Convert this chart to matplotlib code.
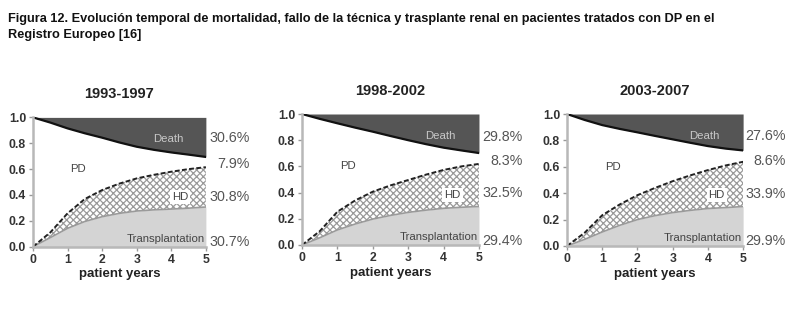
import matplotlib
matplotlib.use("Agg")
import matplotlib.pyplot as plt

years = [0, 0.5, 1, 1.5, 2, 2.5, 3, 3.5, 4, 4.5, 5]

titles = ["1993-1997", "1998-2002", "2003-2007"]

# upper boundary of PD (1 - cumulative death)
alive = [
    [1.0, 0.960, 0.915, 0.877, 0.843, 0.806, 0.773, 0.749, 0.729, 0.712, 0.694],
    [1.0, 0.963, 0.929, 0.896, 0.865, 0.832, 0.800, 0.770, 0.743, 0.722, 0.702],
    [1.0, 0.955, 0.916, 0.887, 0.861, 0.834, 0.808, 0.782, 0.757, 0.738, 0.724],
]
# cumulative transplant + HD (dashed line)
hd_top = [
    [0.0, 0.110, 0.258, 0.369, 0.438, 0.488, 0.528, 0.556, 0.580, 0.600, 0.615],
    [0.0, 0.105, 0.254, 0.340, 0.407, 0.455, 0.496, 0.537, 0.573, 0.600, 0.619],
    [0.0, 0.100, 0.233, 0.315, 0.385, 0.440, 0.491, 0.535, 0.575, 0.610, 0.638],
]
# cumulative transplant
tx = [
    [0.0, 0.070, 0.142, 0.195, 0.232, 0.258, 0.276, 0.285, 0.291, 0.298, 0.307],
    [0.0, 0.055, 0.115, 0.160, 0.198, 0.226, 0.249, 0.266, 0.280, 0.288, 0.294],
    [0.0, 0.050, 0.106, 0.157, 0.200, 0.230, 0.253, 0.270, 0.284, 0.291, 0.299],
]

pct_death = ["30.6%", "29.8%", "27.6%"]
pct_pd = ["7.9%", "8.3%", "8.6%"]
pct_hd = ["30.8%", "32.5%", "33.9%"]
pct_tx = ["30.7%", "29.4%", "29.9%"]

caption = ("Figura 12. Evolución temporal de mortalidad, fallo de la técnica y trasplante renal "
           "en pacientes tratados con DP en el\nRegistro Europeo [16]")

plt.rcParams['hatch.linewidth'] = 0.9
fig = plt.figure(figsize=(8.08, 3.35), dpi=100)
fig.text(0.010, 0.962, caption, fontsize=9.15, fontweight='bold', family='Liberation Sans',
         va='top', ha='left', linespacing=1.5, color='#111111')

positions = [
    [0.0408, 0.2636, 0.214, 0.386],
    [0.3738, 0.2687, 0.219, 0.391],
    [0.7017, 0.2657, 0.218, 0.394],
]
pct_right = [6.26, 6.23, 6.20]
pct_y = [
    [0.843, 0.637, 0.387, 0.040],
    [0.824, 0.640, 0.394, 0.033],
    [0.833, 0.643, 0.397, 0.038],
]

tf = dict(family='Liberation Sans')
for i in range(3):
    ax = fig.add_axes(positions[i])
    ax.fill_between(years, alive[i], 1.0, color='#555555', lw=0)
    ax.fill_between(years, tx[i], hd_top[i], facecolor='white', edgecolor='#9a9a9a',
                    hatch='xxxxx', lw=0)
    ax.fill_between(years, 0, tx[i], color='#d4d4d4', lw=0)
    ax.plot(years, tx[i], color='#9a9a9a', lw=1.2)
    ax.plot(years, hd_top[i], color='#222222', lw=1.4, ls=(0, (2.5, 1.2)))
    ax.plot(years, alive[i], color='#111111', lw=1.6)

    ax.set_xlim(0, 5)
    ax.set_ylim(0, 1.0)
    ax.set_xticks([0, 1, 2, 3, 4, 5])
    ax.set_yticks([0.0, 0.2, 0.4, 0.6, 0.8, 1.0])
    ax.set_yticklabels(["0.0", "0.2", "0.4", "0.6", "0.8", "1.0"])
    for s in ['top', 'right']:
        ax.spines[s].set_visible(False)
    for s in ['left', 'bottom']:
        ax.spines[s].set_color('#b8b8b8')
        ax.spines[s].set_linewidth(1.8)
    ax.tick_params(length=3, width=1.0, color='#999999', labelsize=8.8, labelcolor='#333333', pad=2)
    for lab in ax.get_xticklabels() + ax.get_yticklabels():
        lab.set_fontweight('bold')
        lab.set_family('Liberation Sans')
    ax.set_xlabel("patient years", fontsize=9.5, fontweight='bold', labelpad=2, color='#222222', **tf)
    ax.set_title(titles[i], fontsize=10.5, fontweight='bold', pad=14, color='#222222', **tf)

    ax.text(3.9, 0.83, "Death", color='#c8c8c8', fontsize=8.2, ha='center', va='center', **tf)
    ax.text(1.3, 0.60, "PD", color='#444444', fontsize=8.2, ha='center', va='center', **tf)
    ax.text(4.25, 0.385, "HD", color='#444444', fontsize=8.2, ha='center', va='center',
            bbox=dict(facecolor='white', edgecolor='none', pad=1.5), **tf)
    ax.text(4.97, 0.06, "Transplantation", color='#444444', fontsize=8.2, ha='right', va='center', **tf)

    kw = dict(color='#555555', fontsize=10.3, ha='right', va='center', clip_on=False, **tf)
    ax.text(pct_right[i], pct_y[i][0], pct_death[i], **kw)
    ax.text(pct_right[i], pct_y[i][1], pct_pd[i], **kw)
    ax.text(pct_right[i], pct_y[i][2], pct_hd[i], **kw)
    ax.text(pct_right[i], pct_y[i][3], pct_tx[i], **kw)

fig.savefig("out.png", dpi=100)
